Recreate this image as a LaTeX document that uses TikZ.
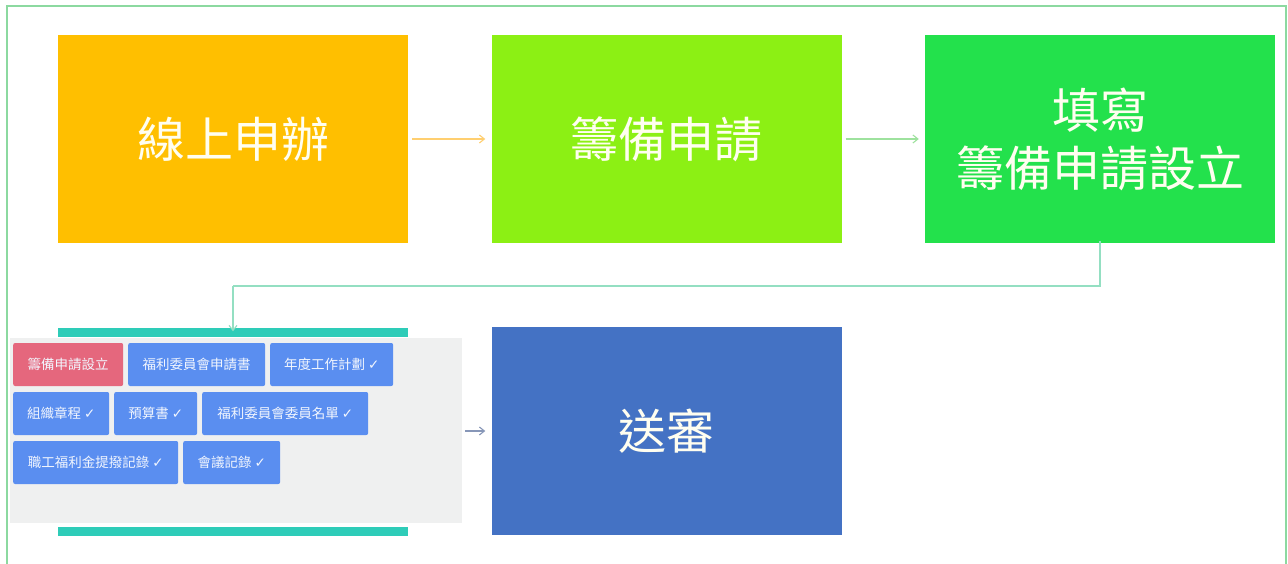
\documentclass[tikz,border=0pt]{standalone}
\usepackage{fontspec}
\newfontfamily\cjk{Noto Sans CJK TC}
\newfontfamily\djv{DejaVu Sans}
\usetikzlibrary{arrows.meta}
\definecolor{cOrange}{HTML}{FFBF00}
\definecolor{cLime}{HTML}{8CF014}
\definecolor{cGreen}{HTML}{23E14C}
\definecolor{cBlue}{HTML}{4472C4}
\definecolor{cTeal}{HTML}{2ECCB8}
\definecolor{cPanel}{HTML}{EFF0F0}
\definecolor{cPink}{HTML}{E5677D}
\definecolor{cTag}{HTML}{5A8EF0}
\definecolor{cFrame}{HTML}{8CD9A0}
\definecolor{cArrOr}{HTML}{FFCF70}
\definecolor{cArrGr}{HTML}{9EE29E}
\definecolor{cArrTe}{HTML}{94DFC2}
\definecolor{cArrBl}{HTML}{8797B8}
\newcommand{\ck}{{\djv\char"2713}}
\tikzset{
  bigbox/.style={draw=none, minimum width=350pt, minimum height=208pt, inner sep=0pt,
    text=white!94!yellow, align=center, font=\cjk\fontsize{48}{58}\selectfont},
  tagbox/.style={draw=none, fill=cTag, rounded corners=2pt, minimum height=43pt, inner sep=0pt,
    anchor=west, text=white!92!cTag, font=\cjk\fontsize{13.5}{16}\selectfont},
  bar/.style={draw=none, fill=cTeal, minimum width=350pt, minimum height=9pt, inner sep=0pt},
  flow/.style={line width=1.1pt, -{Straight Barb[length=5pt,width=8pt]}}
}
\begin{document}
\begin{tikzpicture}[x=1pt,y=-1pt]
\useasboundingbox (0,0) rectangle (1288,564);
\fill[white] (0,0) rectangle (1288,564);
\draw[cFrame, line width=1.2pt] (7,564) -- (7,6) -- (1286,6) -- (1286,564);

\node[bigbox, fill=cOrange] (b1) at (233,139) {線上申辦};
\node[bigbox, fill=cLime] (b2) at (666.5,139) {籌備申請};
\node[bigbox, fill=cGreen] (b3) at (1100,139) {填寫\\籌備申請設立};
\node[bigbox, fill=cBlue] (b4) at (666.5,431) {送審};

\node[draw=none, fill=cPanel, minimum width=452pt, minimum height=185pt, inner sep=0pt, anchor=north west] (panel) at (10,338) {};
\node[bar] (bartop) at (233,332) {};
\node[bar] (barbot) at (233,531) {};

\node[tagbox, fill=cPink, minimum width=110pt] (t1) at (13,364.5) {籌備申請設立};
\node[tagbox, minimum width=137pt] (t2) at (128,364.5) {福利委員會申請書};
\node[tagbox, minimum width=123pt] (t3) at (270,364.5) {年度工作計劃 \ck};
\node[tagbox, minimum width=96pt] (t4) at (13,413.5) {組織章程 \ck};
\node[tagbox, minimum width=83pt] (t5) at (114,413.5) {預算書 \ck};
\node[tagbox, minimum width=166pt] (t6) at (202,413.5) {福利委員會委員名單 \ck};
\node[tagbox, minimum width=165pt] (t7) at (13,462.5) {職工福利金提撥記錄 \ck};
\node[tagbox, minimum width=97pt] (t8) at (183,462.5) {會議記錄 \ck};

\coordinate (c1) at (1100,286);
\coordinate (c2) at (233,286);

\draw[flow, cArrOr] ([xshift=4pt]b1.east) -- ([xshift=-6pt]b2.west);
\draw[flow, cArrGr] ([xshift=4pt]b2.east) -- ([xshift=-6pt]b3.west);
\draw[line width=1.1pt, cArrTe] ([yshift=2pt]b3.south) -- (c1) -- (c2);
\draw[flow, cArrTe] (c2) -- ([yshift=-4pt]bartop.north);
\draw[flow, cArrBl] ([xshift=3pt]panel.east |- b4.west) -- ([xshift=-6pt]b4.west);
\end{tikzpicture}
\end{document}
